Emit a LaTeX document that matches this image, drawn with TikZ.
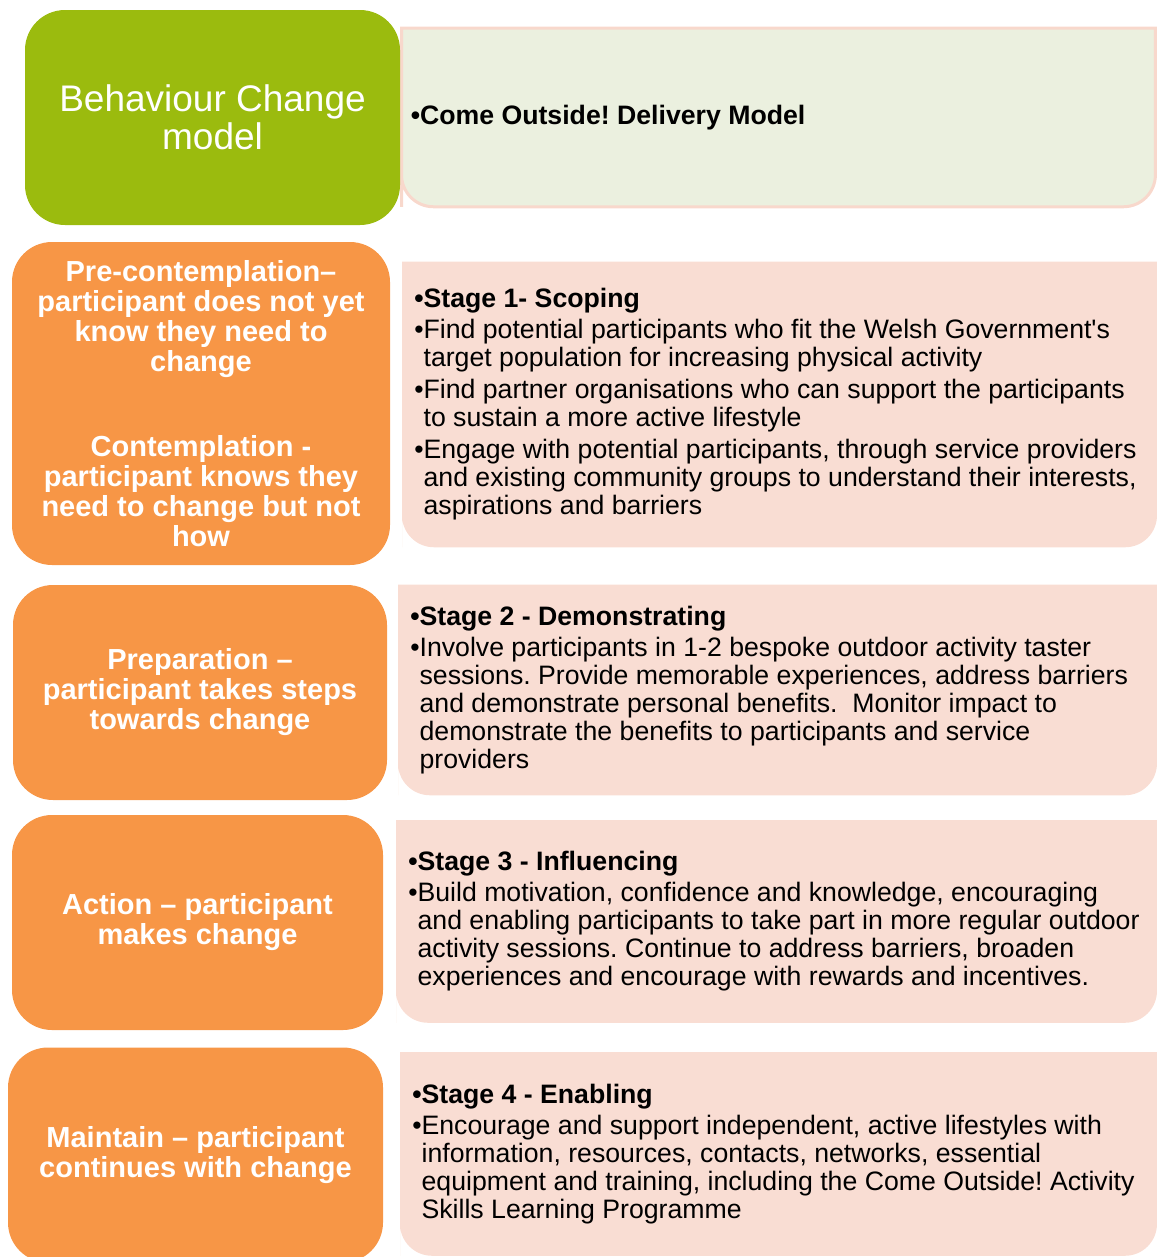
\documentclass[tikz,border=0pt]{standalone}
\usepackage{fontspec}
\setmainfont{Liberation Sans}[Ligatures=TeXOff]
\usetikzlibrary{backgrounds}
\frenchspacing
\definecolor{modelgreen}{HTML}{9BBB0E}
\definecolor{phaseorange}{HTML}{F79646}
\definecolor{stagepink}{HTML}{F9DDD3}
\definecolor{deliverygreen}{HTML}{EBF0DF}
\definecolor{deliveryline}{HTML}{F8D8CC}
\tikzset{modelbox/.style={fill=modelgreen, rounded corners=30pt, text=white, align=center, font=\fontsize{27.75pt}{28.5pt}\selectfont},
  phasebox/.style={fill=phaseorange, rounded corners=30pt, text=white, align=center, font=\fontsize{21.75pt}{22.5pt}\selectfont\bfseries},
  stagebox/.style={anchor=west, inner xsep=9pt, inner ysep=0pt, align=left, font=\fontsize{20pt}{21pt}\selectfont},
  stageshape/.style={fill=stagepink}}
\newcommand{\bul}{\textbullet}
\newcommand{\ind}{\phantom{\textbullet}}

\begin{document}
\begin{tikzpicture}[x=0.75pt,y=-0.75pt]
  \useasboundingbox (0,0) rectangle (1157,1257);
  \coordinate (edge) at (1157,0);

  \node[modelbox, minimum width=281.25pt, minimum height=161.25pt] (bcm) at (212.5,117.5) {Behaviour Change\\model};
  \node[stagebox, minimum height=133.5pt, inner xsep=6.75pt] (dm) at (401.5,117.5) {\bfseries\bul Come Outside! Delivery Model};

  \node[phasebox, minimum width=283.5pt, minimum height=242.25pt] (pc) at (201,403.5)
   {Pre-contemplation–\\participant does not yet\\know they need to\\change\\[41pt]Contemplation -\\participant knows they\\need to change but not\\how};
  \node[stagebox, minimum height=213.75pt] (s1) at (402,404.5)
   {{\bfseries\bul Stage 1- Scoping}\\[2.25pt]
    \bul Find potential participants who fit the Welsh Government's\\
    \ind target population for increasing physical activity\\[3pt]
    \bul Find partner organisations who can support the participants\\
    \ind to sustain a more active lifestyle\\[3pt]
    \bul Engage with potential participants, through service providers\\
    \ind and existing community groups to understand their interests,\\
    \ind aspirations and barriers};

  \node[phasebox, minimum width=280.5pt, minimum height=161.25pt] (pr) at (200,692.5)
   {Preparation –\\participant takes steps\\towards change};
  \node[stagebox, minimum height=157.5pt] (s2) at (398,690)
   {{\bfseries\bul Stage 2 - Demonstrating}\\[2.25pt]
    \bul Involve participants in 1-2 bespoke outdoor activity taster\\
    \ind sessions. Provide memorable experiences, address barriers\\
    \ind and demonstrate personal benefits.\ \ Monitor impact to\\
    \ind demonstrate the benefits to participants and service\\
    \ind providers};

  \node[phasebox, minimum width=278.25pt, minimum height=161.25pt] (ac) at (197.5,922.5)
   {Action – participant\\makes change};
  \node[stagebox, minimum height=151.5pt] (s3) at (396,921.5)
   {{\bfseries\bul Stage 3 - Influencing}\\[2.25pt]
    \bul Build motivation, confidence and knowledge, encouraging\\
    \ind and enabling participants to take part in more regular outdoor\\
    \ind activity sessions. Continue to address barriers, broaden\\
    \ind experiences and encourage with rewards and incentives.};

  \node[phasebox, minimum width=281.25pt, minimum height=161.25pt] (mt) at (195.5,1155)
   {Maintain – participant\\continues with change};
  \node[stagebox, minimum height=152.25pt] (s4) at (400,1154)
   {{\bfseries\bul Stage 4 - Enabling}\\[2.25pt]
    \bul Encourage and support independent, active lifestyles with\\
    \ind information, resources, contacts, networks, essential\\
    \ind equipment and training, including the Come Outside! Activity\\
    \ind Skills Learning Programme};

  \begin{pgfonlayer}{background}
    \foreach \n in {s1,s2,s3,s4}
      \fill[stageshape] (\n.south west) -- (\n.north west) -- (\n.north west -| edge) [rounded corners=24pt] -- (\n.south west -| edge) -- (\n.south west) [sharp corners] -- cycle;
    \filldraw[fill=deliverygreen, draw=deliveryline, line width=2.25pt] (dm.south west) -- (dm.north west) -- ([xshift=-1.2pt]dm.north west -| edge) [rounded corners=24pt] -- ([xshift=-1.2pt]dm.south west -| edge) -- (dm.south west) [sharp corners] -- cycle;
  \end{pgfonlayer}
\end{tikzpicture}
\end{document}
